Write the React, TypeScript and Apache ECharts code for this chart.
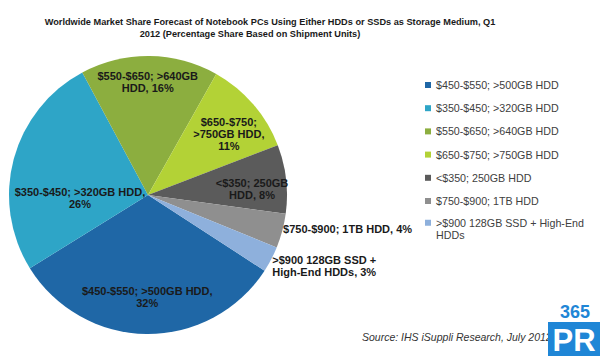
import React, { useEffect, useRef } from "react";
import * as echarts from "echarts";

const categories = [
  "$450-$550; >500GB HDD",
  "$350-$450; >320GB HDD",
  "$550-$650; >640GB HDD",
  "$650-$750; >750GB HDD",
  "<$350; 250GB HDD",
  "$750-$900; 1TB HDD",
  ">$900 128GB SSD + High-End HDDs",
];
const shares = [32, 26, 16, 11, 8, 4, 3];
const labelPrefixes = [
  "$450-$550; >500GB HDD,\n",
  "$350-$450; >320GB HDD,\n",
  "$550-$650; >640GB\nHDD, ",
  "$650-$750;\n>750GB HDD,\n",
  "<$350; 250GB\nHDD, ",
  "$750-$900; 1TB HDD, ",
  ">$900 128GB SSD +\nHigh-End HDDs, ",
];
const colors = ["#1f67a6", "#2ea5c7", "#8cae3f", "#b3d236", "#5b5b5b", "#8f8f8f", "#8eb0dc"];
const labelShift = [
  [0, 30, "center"],
  [2, 22, "center"],
  [-1, -41, "center"],
  [26, -14, "center"],
  [32, 2, "center"],
  [65, 15, "left"],
  [60, 37, "left"],
];
const titleLine1 = "Worldwide Market Share Forecast of Notebook PCs Using Either HDDs or SSDs as Storage Medium, Q1";
const titleLine2 = "2012 (Percentage Share Based on Shipment Units)";
const sourceText = "Source: IHS iSuppli Research, July 2012";

const FONT = "'Liberation Sans', Arial, sans-serif";

export default function App() {
  const ref = useRef<HTMLDivElement>(null);
  useEffect(() => {
    const chart = echarts.init(ref.current!, null, { renderer: "svg" });
    const legendText = {
      fontFamily: FONT,
      fontSize: 10.7,
      color: "#404040",
      lineHeight: 13,
    };
    const titleStyle = { fontFamily: FONT, fontSize: 9.2, fontWeight: "bold", color: "#1a1a1a" };
    chart.setOption({
      animation: false,
      backgroundColor: "#ffffff",
      color: colors,
      title: [
        { text: titleLine1, left: 270, textAlign: "center", top: 17, padding: 0, textStyle: titleStyle },
        { text: titleLine2, left: 250, textAlign: "center", top: 29, padding: 0, textStyle: titleStyle },
      ],
      legend: [
        {
          orient: "vertical",
          left: 425,
          top: 78.5,
          padding: 0,
          itemWidth: 6,
          itemHeight: 6,
          itemGap: 10.2,
          icon: "rect",
          data: categories.slice(0, 6),
          textStyle: legendText,
        },
        {
          orient: "vertical",
          left: 425,
          top: 204,
          padding: 0,
          itemWidth: 6,
          itemHeight: 6,
          icon: "rect",
          data: categories.slice(6),
          formatter: (n: string) => " \n" + n.replace("High-End HDDs", "High-End\nHDDs"),
          textStyle: { ...legendText, lineHeight: 12.5 },
        },
      ],
      series: [
        {
          type: "pie",
          center: [148, 195],
          radius: 139,
          startAngle: -33,
          clockwise: true,
          avoidLabelOverlap: false,
          itemStyle: { borderWidth: 0 },
          label: {
            show: true,
            position: "inside",
            fontFamily: FONT,
            fontSize: 11,
            fontWeight: "bold",
            color: "#1a1a1a",
            lineHeight: 12,
            formatter: (p: any) => labelPrefixes[p.dataIndex] + p.value + "%",
          },
          labelLine: { show: false },
          labelLayout: (p: any) => {
            const s = labelShift[p.dataIndex];
            return { dx: s[0], dy: s[1], align: s[2] };
          },
          data: categories.map((name, i) => ({ name, value: shares[i] })),
        },
      ],
      graphic: [
        {
          type: "text",
          left: 362,
          top: 331,
          style: { text: sourceText, fontFamily: FONT, fontSize: 10.5, fontStyle: "italic", fill: "#333333" },
          z: 10,
        },
        {
          type: "rect",
          shape: { x: 548, y: 322, width: 52, height: 34 },
          style: { fill: "#1f86d6" },
          z: 20,
        },
        {
          type: "text",
          x: 575,
          y: 312,
          style: { text: "365", fontFamily: FONT, fontSize: 18, lineHeight: 18, fontWeight: "bold", fill: "#1f86d6", align: "center", verticalAlign: "middle" },
          z: 20,
        },
        {
          type: "text",
          x: 574,
          y: 340,
          style: { text: "PR", fontFamily: FONT, fontSize: 31, lineHeight: 26, fontWeight: "bold", fill: "#ffffff", align: "center", verticalAlign: "middle" },
          z: 21,
        },
      ],
    });
    return () => chart.dispose();
  }, []);
  return <div ref={ref} style={{ position: "fixed", left: 0, top: 0, width: 600, height: 356 }} />;
}
